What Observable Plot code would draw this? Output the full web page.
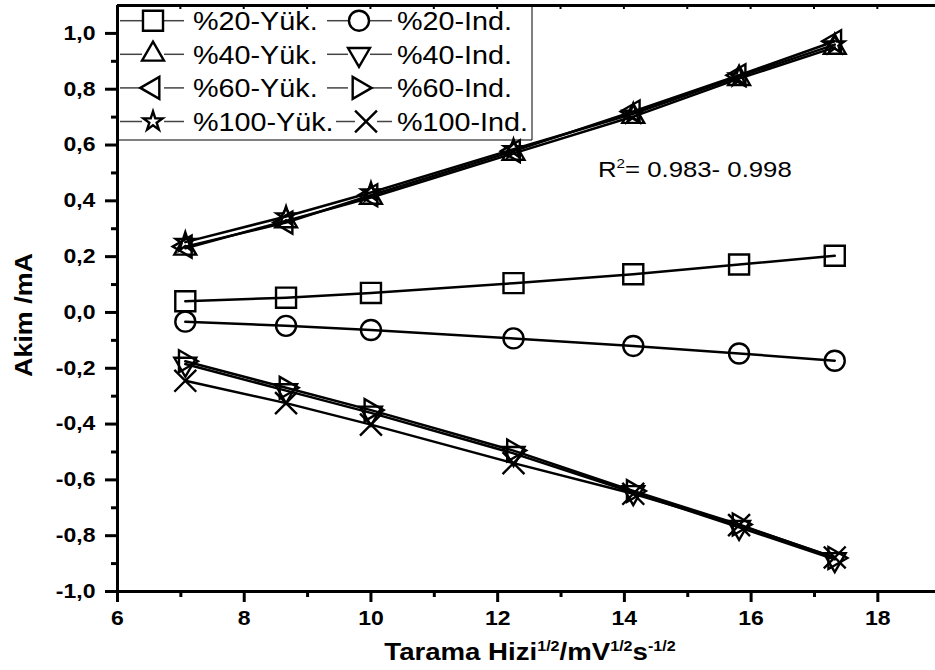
<!DOCTYPE html>
<html><head><meta charset="utf-8">
<script src="https://cdn.jsdelivr.net/npm/d3@7"></script>
<script src="https://cdn.jsdelivr.net/npm/@observablehq/plot@0.6"></script>
<style>
html,body{margin:0;padding:0;background:#fff;}
#chart{width:935px;height:670px;overflow:hidden;}
</style></head><body><div id="chart"></div>
<script>
// ---- data ----
const xVals   = [7.07, 8.66, 10.0, 12.25, 14.14, 15.81, 17.32];
const seriesNames = ["%20-Yük.", "%20-Ind.", "%40-Yük.", "%40-Ind.", "%60-Yük.", "%60-Ind.", "%100-Yük.", "%100-Ind."];
const yuk20  = [0.040, 0.053, 0.070, 0.105, 0.137, 0.172, 0.203];
const ind20  = [-0.033, -0.048, -0.063, -0.093, -0.120, -0.147, -0.173];
const yuk40  = [0.230, 0.328, 0.412, 0.570, 0.702, 0.838, 0.950];
const ind40  = [-0.185, -0.280, -0.360, -0.505, -0.645, -0.770, -0.885];
const yuk60  = [0.236, 0.322, 0.420, 0.578, 0.720, 0.850, 0.972];
const ind60  = [-0.175, -0.270, -0.350, -0.495, -0.640, -0.760, -0.880];
const yuk100 = [0.252, 0.344, 0.430, 0.585, 0.712, 0.845, 0.960];
const ind100 = [-0.245, -0.325, -0.402, -0.540, -0.650, -0.762, -0.878];
const seriesValues = [yuk20, ind20, yuk40, ind40, yuk60, ind60, yuk100, ind100];
const xTicks = [6, 8, 10, 12, 14, 16, 18];
const xMinor = [7, 9, 11, 13, 15, 17];
const yTicks = [-1.0, -0.8, -0.6, -0.4, -0.2, 0.0, 0.2, 0.4, 0.6, 0.8, 1.0];
const yMinor = [-0.9, -0.7, -0.5, -0.3, -0.1, 0.1, 0.3, 0.5, 0.7, 0.9];
const xDomain = [6, 18.91];
const yDomain = [-1.0, 1.1];
const xTitleParts = ["Tarama Hizi", "1/2", "/mV", "1/2", "s", "-1/2"];
const yTitle = "Akim /mA";
const r2Parts = ["R", "2", "= 0.983- 0.998"];

// ---- symbols ----
function tri(angle) {
  return {draw(ctx, size) {
    const R = Math.sqrt(size / Math.PI) * 1.1;
    for (let k = 0; k < 3; k++) {
      const a = angle + k * 2 * Math.PI / 3;
      const px = R * Math.cos(a), py = R * Math.sin(a);
      k === 0 ? ctx.moveTo(px, py) : ctx.lineTo(px, py);
    }
    ctx.closePath();
  }};
}
const triUp = tri(-Math.PI / 2), triDown = tri(Math.PI / 2), triLeft = tri(Math.PI), triRight = tri(0);
const symbols = [d3.symbolSquare, d3.symbolCircle, triUp, triDown, triLeft, triRight, d3.symbolStar, d3.symbolTimes];
const radii   = [11.3, 10, 11.5, 11.5, 11.5, 11.5, 6, 10];

const rows = [];
seriesNames.forEach((name, s) => xVals.forEach((x, i) => rows.push({series: name, s, x, y: seriesValues[s][i]})));

const fmt = d => (Math.abs(d) < 1e-9 ? 0 : d).toFixed(1).replace(".", ",");
const FONT = "'Liberation Sans', Arial, Helvetica, sans-serif";

const marks = [
  Plot.axisX({ticks: xTicks, tickSize: 11, tickPadding: 8, fontSize: 20, fontWeight: "bold", strokeWidth: 3, label: null}),
  Plot.axisX({ticks: xMinor, tickSize: 6, tickFormat: () => "", strokeWidth: 3, label: null}),
  Plot.axisY({ticks: yTicks, tickSize: 12, tickPadding: 10, tickFormat: fmt, fontSize: 20, fontWeight: "bold", strokeWidth: 3, label: null}),
  Plot.axisY({ticks: yMinor, tickSize: 6, tickFormat: () => "", strokeWidth: 3, label: null}),
  Plot.ruleX([xDomain[0]], {stroke: "black", strokeWidth: 3}),
  Plot.ruleY([yDomain[0]], {stroke: "black", strokeWidth: 3}),
  Plot.ruleY([yDomain[1]], {stroke: "black", strokeWidth: 3})
];
seriesNames.forEach((name, s) => {
  const d = rows.filter(r => r.s === s);
  marks.push(Plot.line(d, {x: "x", y: "y", stroke: "black", strokeWidth: 2.5}));
});
seriesNames.forEach((name, s) => {
  const d = rows.filter(r => r.s === s);
  marks.push(Plot.dot(d, {x: "x", y: "y", symbol: symbols[s], r: radii[s], stroke: "black", strokeWidth: 2.4, fill: "none"}));
});

const plot = Plot.plot({
  width: 935, height: 670,
  marginLeft: 117, marginRight: 0, marginTop: 5, marginBottom: 79,
  x: {domain: xDomain},
  y: {domain: yDomain},
  style: {fontFamily: FONT, fontSize: "20px", background: "white", color: "black", overflow: "visible"},
  marks
});
document.getElementById("chart").appendChild(plot);

const svg = d3.select(plot);
const sx = plot.scale("x"), sy = plot.scale("y");

// horizontal stretch of tick labels (reference font is wider)
function stretch(node, k) {
  const bb = node.getBBox();
  const anchor = getComputedStyle(node).textAnchor;
  const ax = anchor === "end" ? bb.x + bb.width : anchor === "middle" ? bb.x + bb.width / 2 : bb.x;
  const tr = node.getAttribute("transform") || "";
  node.setAttribute("transform", `${tr} translate(${ax},0) scale(${k},1) translate(${-ax},0)`);
}
plot.querySelectorAll('g[aria-label$="tick label"] text').forEach(t => stretch(t, 1.15));

// small ticks under the top frame line
const frameTop = sy.apply(yDomain[1]);
const gTop = svg.append("g").attr("stroke", "black").attr("stroke-width", 2);
d3.range(6, 19).forEach(v => {
  const X = sx.apply(v);
  gTop.append("line").attr("x1", X).attr("x2", X).attr("y1", frameTop).attr("y2", frameTop + 4);
});

// axis titles
const xt = svg.append("text").attr("x", 530).attr("y", 660).attr("text-anchor", "middle")
  .attr("font-family", FONT).attr("font-weight", "bold").attr("font-size", 24).attr("fill", "black");
xTitleParts.forEach((p, i) => {
  const sup = i % 2 === 1;
  xt.append("tspan").attr("dy", i === 0 ? 0 : (sup ? -9 : 9)).attr("font-size", sup ? 14 : 24).text(p);
});
xt.attr("transform", "translate(530,0) scale(1.15,1) translate(-530,0)");

svg.append("text").attr("transform", "translate(32,315) rotate(-90) scale(1.12,1)")
  .attr("text-anchor", "middle").attr("font-family", FONT).attr("font-weight", "bold")
  .attr("font-size", 24).attr("fill", "black").text(yTitle);

// R^2 annotation
const r2 = svg.append("text").attr("x", 598).attr("y", 177).attr("font-family", FONT)
  .attr("text-anchor", "start").attr("font-size", 22).attr("fill", "black")
  .attr("transform", "translate(598,0) scale(1.17,1) translate(-598,0)");
r2.append("tspan").text(r2Parts[0]);
r2.append("tspan").attr("dy", -9).attr("font-size", 13).text(r2Parts[1]);
r2.append("tspan").attr("dy", 9).text(r2Parts[2]);

// legend
const lg = svg.append("g").attr("text-anchor", "start");
lg.append("line").attr("x1", 117).attr("x2", 532).attr("y1", 140).attr("y2", 140).attr("stroke", "black").attr("stroke-width", 1);
lg.append("line").attr("x1", 532).attr("x2", 532).attr("y1", 5).attr("y2", 140).attr("stroke", "black").attr("stroke-width", 1);
seriesNames.forEach((name, s) => {
  const row = Math.floor(s / 2), col = s % 2;
  const cy = 20.7 + row * 33.6;
  let x0, x1, cx, tx;
  if (col === 0) { x0 = 120; x1 = 184; cx = 153; tx = 193; }
  else { x0 = row === 3 ? 336 : 327; x1 = 392; cx = row === 3 ? 366 : 359; tx = 397; }
  const half = 11;
  lg.append("line").attr("x1", x0).attr("x2", cx - half).attr("y1", cy).attr("y2", cy).attr("stroke", "#444").attr("stroke-width", 1.5);
  lg.append("line").attr("x1", cx + half).attr("x2", x1).attr("y1", cy).attr("y2", cy).attr("stroke", "#444").attr("stroke-width", 1.5);
  lg.append("path").attr("d", d3.symbol(symbols[s], radii[s] * radii[s] * Math.PI)())
    .attr("transform", `translate(${cx},${cy})`).attr("fill", "none").attr("stroke", "black").attr("stroke-width", 2.4);
  const t = lg.append("text").attr("x", tx).attr("y", cy + 9.3).attr("font-family", FONT)
    .attr("text-anchor", "start").attr("font-size", 25).attr("fill", "black").text(name);
  t.attr("transform", `translate(${tx},0) scale(1.15,1) translate(${-tx},0)`);
});
</script></body></html>
